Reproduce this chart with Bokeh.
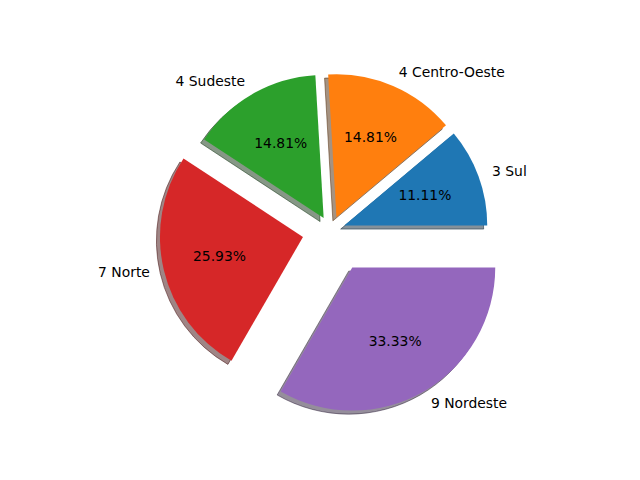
import numpy as np
from bokeh.plotting import figure
from bokeh.models import Range1d, ColumnDataSource
from bokeh.core.properties import value
from bokeh.embed import file_html
from bokeh.resources import INLINE

# ---- data ----
regions = ["Sul", "Centro-Oeste", "Sudeste", "Norte", "Nordeste"]
counts = [3, 4, 4, 7, 9]
explode = [0.1, 0.1, 0.1, 0.2, 0.3]
colors = ["#1f77b4", "#ff7f0e", "#2ca02c", "#d62728", "#9467bd"]

# ---- geometry (pie radius = 1 data unit) ----
total = float(sum(counts))
fracs = np.array(counts) / total
ends = np.cumsum(fracs) * 2 * np.pi
starts = ends - fracs * 2 * np.pi
mids = (starts + ends) / 2
ex = np.array(explode)
cx = ex * np.cos(mids)
cy = ex * np.sin(mids)

def shade(h):
    h = h.lstrip("#")
    r, g, b = (int(h[i:i + 2], 16) for i in (0, 2, 4))
    return "#%02x%02x%02x" % (int(0.3 * r), int(0.3 * g), int(0.3 * b))

shadow_colors = [shade(c) for c in colors]
sh = 0.025

src = ColumnDataSource(dict(
    x=cx, y=cy, sx=cx - sh, sy=cy - sh,
    start=starts, end=ends, color=colors, scolor=shadow_colors,
))

# pixel mapping: figure occupies picture pixels x 0..624, y 0..464
R = 143.0
CXp, CYp = 330.3, 229.9
x0 = (0 - CXp) / R
x1 = (624 - CXp) / R
y1 = CYp / R
y0 = (CYp - 464) / R

p = figure(width=624, height=464, output_backend="svg", toolbar_location=None,
           x_range=Range1d(x0, x1), y_range=Range1d(y0, y1),
           x_axis_type=None, y_axis_type=None, min_border=0,
           outline_line_color=None, background_fill_color="white",
           border_fill_color="white")

p.wedge(x="sx", y="sy", radius=1.0, start_angle="start", end_angle="end",
        fill_color="scolor", fill_alpha=0.5, line_color="scolor",
        line_alpha=0.5, line_width=1, source=src)
p.wedge(x="x", y="y", radius=1.0, start_angle="start", end_angle="end",
        fill_color="color", line_color=None, source=src)

# outer labels
lx = cx + 1.1 * np.cos(mids)
ly = cy + 1.1 * np.sin(mids)
labels = ["%d %s" % (c, r) for c, r in zip(counts, regions)]
for xx, yy, t in zip(lx, ly, labels):
    p.text(x=[xx], y=[yy], text=[t], text_align="left" if xx > 0 else "right",
           text_baseline="middle", text_font=value("DejaVu Sans"),
           text_font_size="13.9px", text_color="black", y_offset=-1)

# percentage labels
px_ = cx + 0.6 * np.cos(mids)
py_ = cy + 0.6 * np.sin(mids)
pct = ["%.2f%%" % (100.0 * f) for f in fracs]
p.text(x=px_, y=py_, text=pct, text_align="center", text_baseline="middle",
       text_font=value("DejaVu Sans"), text_font_size="13.9px",
       text_color="black", y_offset=-1)

open("out.html", "w").write(file_html(p, INLINE))
